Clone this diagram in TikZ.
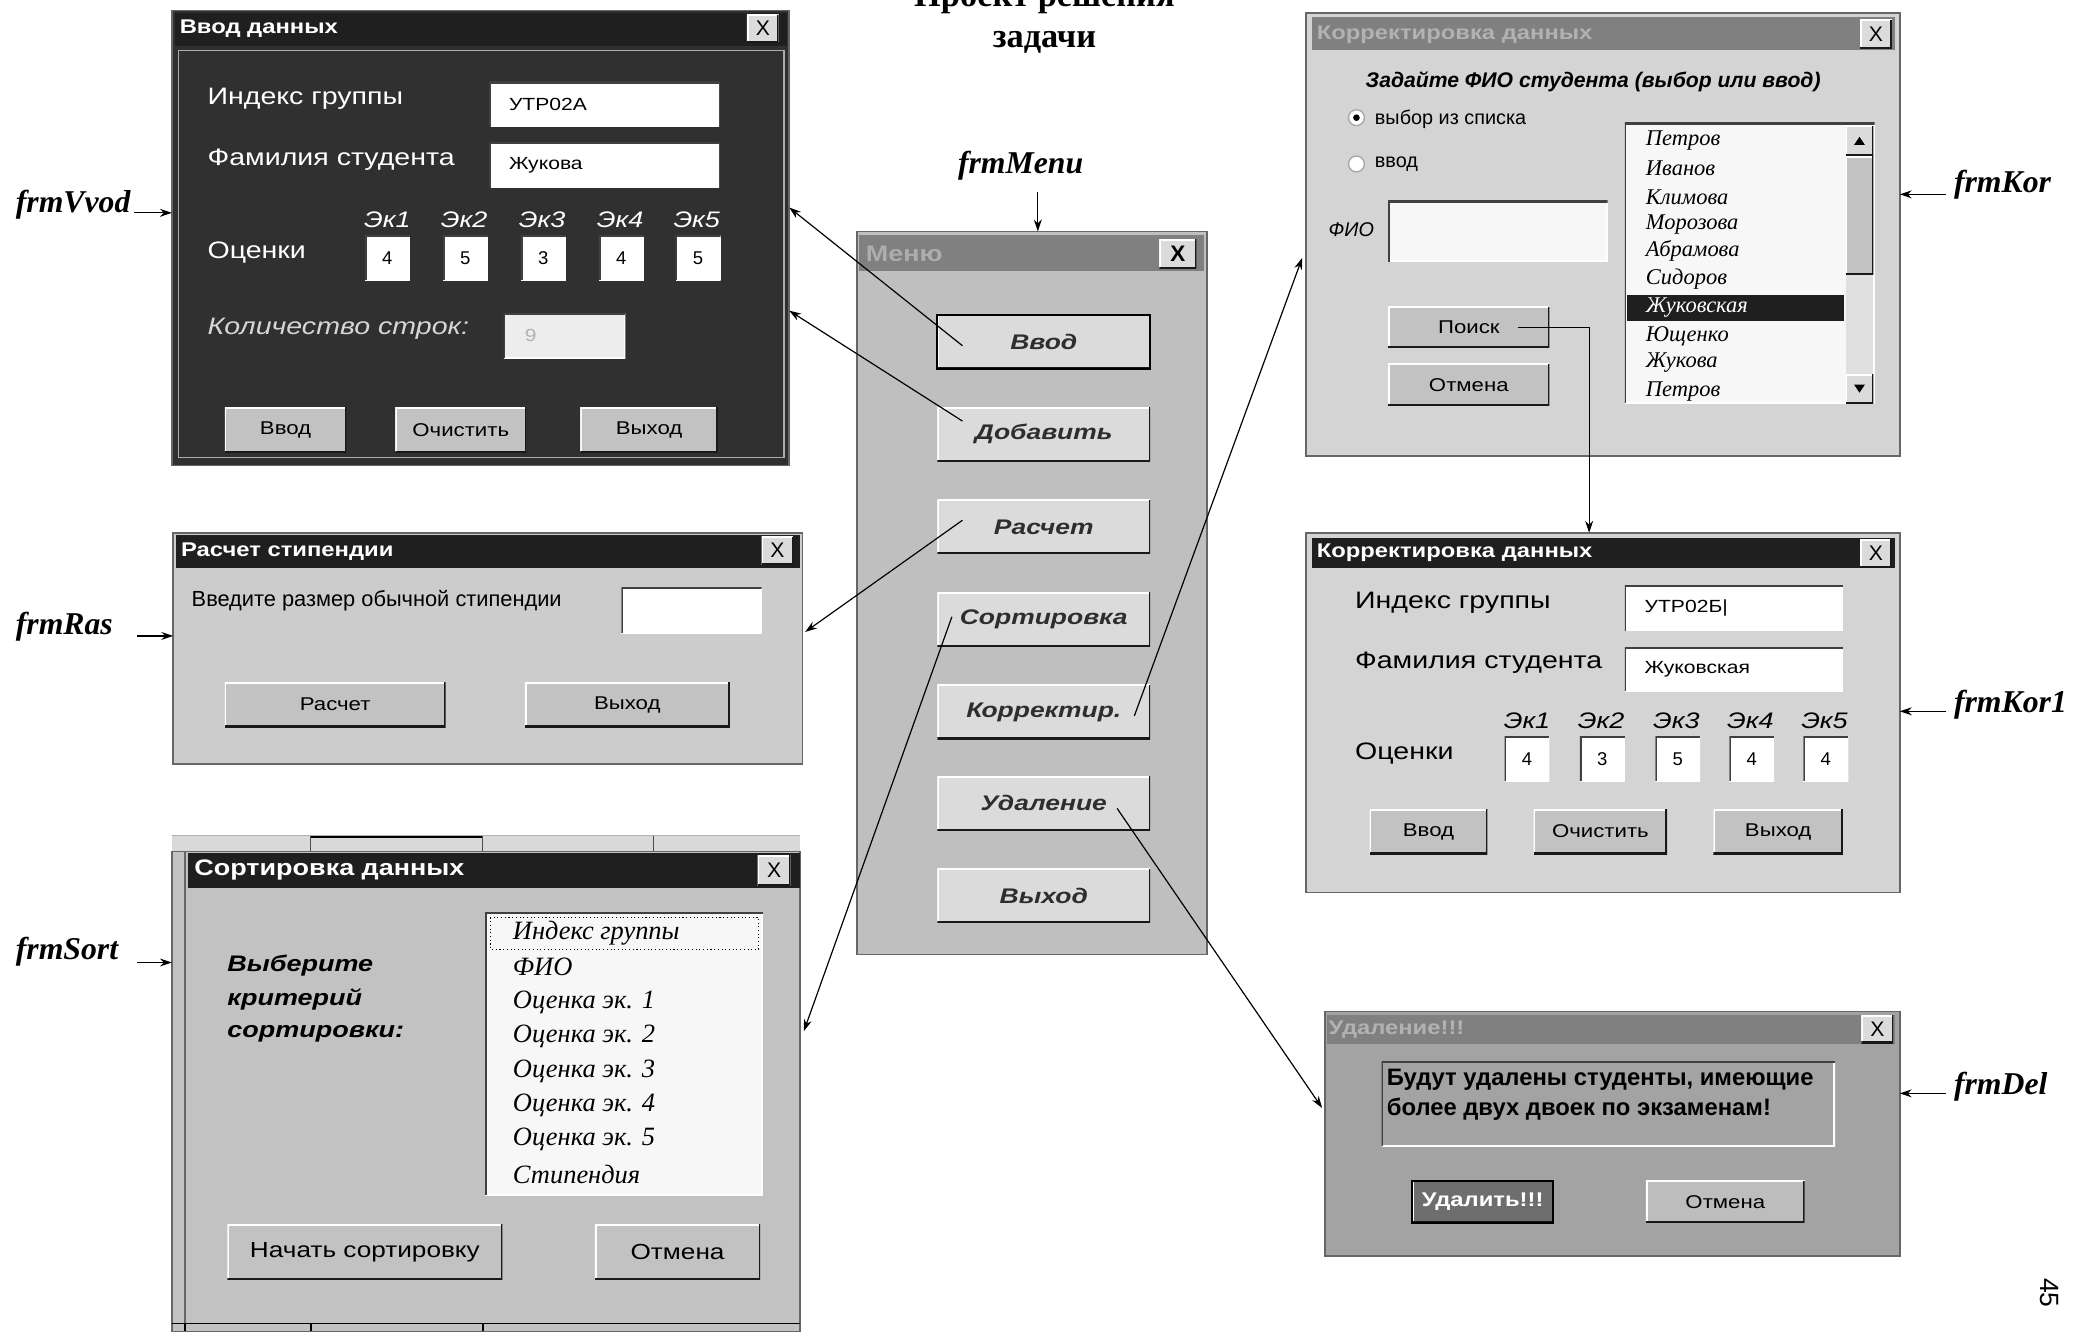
\documentclass[tikz,border=0pt]{standalone}
\usepackage{fontspec}
\setmainfont{Liberation Serif}
\newfontfamily\ui{Liberation Sans}
\newfontfamily\uis[FakeStretch=1.2]{Liberation Sans}
\newfontfamily\uiwide[FakeStretch=1.25]{Liberation Sans}
\usetikzlibrary{arrows.meta}
\definecolor{tbBlack}{gray}{0.12}
\definecolor{tbGray}{gray}{0.50}
\definecolor{tbText}{gray}{0.70}
\definecolor{bodyDark}{gray}{0.19}
\definecolor{bodyRas}{gray}{0.80}
\definecolor{bodySort}{gray}{0.76}
\definecolor{bodyMenu}{gray}{0.75}
\definecolor{bodyKor}{gray}{0.83}
\definecolor{bodyDel}{gray}{0.64}
\definecolor{btnFill}{gray}{0.76}
\definecolor{btnLight}{gray}{0.86}
\definecolor{btnDark}{gray}{0.43}
\definecolor{btnDel}{gray}{0.74}
\definecolor{edgeDark}{gray}{0.10}
\definecolor{boxFill}{gray}{0.97}
\definecolor{boxGray}{gray}{0.93}
\definecolor{menuText}{gray}{0.18}
\definecolor{menuTitle}{gray}{0.68}
\definecolor{dimText}{gray}{0.84}
\definecolor{trackFill}{gray}{0.88}
\tikzset{
  every node/.style={inner sep=0pt, outer sep=0pt},
  box/.style 2 args={minimum width=#1, minimum height=#2},
  raised/.style={path picture={
    \draw[white, line width=2.5pt] (path picture bounding box.south west) |- (path picture bounding box.north east);
    \draw[edgeDark, line width=2.5pt] (path picture bounding box.south west) -| (path picture bounding box.north east);}},
  sunken/.style={path picture={
    \draw[white, line width=2.5pt] (path picture bounding box.south west) -| (path picture bounding box.north east);
    \draw[black!75, line width=2.5pt] (path picture bounding box.south west) |- (path picture bounding box.north east);}},
  win/.style={rectangle, anchor=north west, fill=#1, draw=black!60, line width=1.2pt},
  tbar/.style={rectangle, anchor=north west, fill=#1},
  ttl/.style={anchor=west, font=\uis\bfseries\fontsize{15}{18}\selectfont, text=#1},
  xbtn/.style={rectangle, anchor=north west, fill=btnLight, raised, box={24}{21}, font=\ui\fontsize{16}{18}\selectfont},
  btn/.style={rectangle, anchor=north west, fill=#1, raised, font=\uis\fontsize{14}{17}\selectfont},
  btn/.default=btnFill,
  mbtn/.style={rectangle, anchor=north west, fill=btnLight, raised, box={161}{41}, font=\uiwide\bfseries\itshape\fontsize{16}{19}\selectfont, text=menuText},
  tbox/.style={rectangle, anchor=north west, fill=#1, sunken, font=\ui\fontsize{14}{17}\selectfont},
  tbox/.default=white,
  val/.style={anchor=west, font=\uis\fontsize{13.3}{16}\selectfont},
  lab/.style={anchor=west, font=\uis\fontsize{18}{21}\selectfont},
  ek/.style={font=\uis\itshape\fontsize{17}{20}\selectfont},
  lsitem/.style={anchor=west, font=\itshape\fontsize{17}{20}\selectfont},
  frm/.style={anchor=west, font=\bfseries\itshape\fontsize{24}{28}\selectfont},
  conn/.style={-{Stealth[length=9pt,width=6pt]}, line width=0.9pt},
}
\begin{document}
\begin{tikzpicture}[x=1pt, y=-1pt]
\useasboundingbox (0,0) rectangle (1568,1007);
\clip (0,0) rectangle (1568,1007);
% ---------- title ----------
\node[anchor=base, font=\bfseries\fontsize{26}{31}\selectfont] (title1) at (790,5) {Проект решения};
\node[anchor=base, font=\bfseries\fontsize{26}{31}\selectfont] (title2) at (790,36) {задачи};
% ---------- frmVvod ----------
\node[win=bodyDark, box={467}{344}] (wVvod) at (130,8) {};
\node[tbar=tbBlack, box={463}{25}] (tVvod) at (132,10) {};
\node[ttl=white] (ttVvod) at (136,22) {Ввод данных};
\node[xbtn] (xVvod) at (565,11) {X};
\draw[gray!65, line width=1pt] (135,38) rectangle (593,346);
\node[lab, text=white] (lIdx) at (157,75) {Индекс группы};
\node[tbox, box={174}{34}] (vIdx) at (370,62) {};
\node[val] (vIdxT) at ([shift={(15,0)}]vIdx.west) {УТР02А};
\node[lab, text=white] (lFam) at (157,121) {Фамилия студента};
\node[tbox, box={174}{34}] (vFam) at (370,108) {};
\node[val] (vFamT) at ([shift={(15,0)}]vFam.west) {Жукова};
\foreach \x [count=\i] in {293,351,410,469,527}
  \node[ek, text=white] (vEk\i) at (\x,166) {Эк\i};
\node[lab, text=white] (lOc) at (157,191) {Оценки};
\foreach \x/\v [count=\i] in {276/4,335/5,394/3,453/4,511/5}
  \node[tbox, box={34}{34}] (vG\i) at (\x,178) {\v};
\node[lab, text=dimText, font=\uis\itshape\fontsize{18}{21}\selectfont] (lCnt) at (157,249) {Количество строк:};
\node[tbox=boxGray, box={92}{34}] (vCnt) at (381,237) {};
\node[val, text=gray!60] (vCntT) at ([shift={(16,0)}]vCnt.west) {9};
\node[btn, box={92}{34}] (vB1) at (170,308) {Ввод};
\node[btn, box={99}{34}] (vB2) at (299,308) {Очистить};
\node[btn, box={104}{34}] (vB3) at (439,308) {Выход};
% ---------- frmRas ----------
\node[win=bodyRas, box={476}{175}] (wRas) at (131,403) {};
\node[tbar=tbBlack, box={472}{25}] (tRas) at (133,405) {};
\node[ttl=white] (ttRas) at (137,417) {Расчет стипендии};
\node[xbtn] (xRas) at (576,406) {X};
\node[lab, font=\ui\fontsize{16.5}{19}\selectfont] (lRas) at (145,454) {Введите размер обычной стипендии};
\node[tbox, box={106}{35}] (vRas) at (470,444) {};
\node[btn, box={167}{34}] (rB1) at (170,516) {Расчет};
\node[btn, box={155}{34}] (rB2) at (397,516) {Выход};
% ---------- frmSort ----------
\fill[gray!30] (130,632) rectangle (605,644);
\draw[gray!60, line width=0.8pt] (130,632) -- (605,632);
\draw[black, line width=1.5pt] (235,633) -- (365,633);
\foreach \x in {235,365,494} \draw[black!70, line width=0.8pt] (\x,632) -- (\x,644);
\node[rectangle, anchor=north west, fill=bodySort, draw=black!60, line width=1pt, box={10}{363}] (sBack) at (130,644) {};
\node[win=bodySort, box={465}{363}] (wSort) at (140,644) {};
\node[tbar=tbBlack, box={463}{27}] (tSort) at (142,645) {};
\node[ttl=white, font=\uis\bfseries\fontsize{17}{20}\selectfont] (ttSort) at (147,658) {Сортировка данных};
\node[xbtn, box={25}{23}] (xSort) at (573,647) {X};
\node[lab, font=\uis\bfseries\itshape\fontsize{17}{20}\selectfont] (lSort1) at (172,730) {Выберите};
\node[lab, font=\uis\bfseries\itshape\fontsize{17}{20}\selectfont] (lSort2) at (172,756) {критерий};
\node[lab, font=\uis\bfseries\itshape\fontsize{17}{20}\selectfont] (lSort3) at (172,782) {сортировки:};
\node[tbox=boxFill, box={210}{214}] (sList) at (367,690) {};
\draw[black, dotted, line width=0.8pt] (371,694) rectangle (574,718);
\foreach \t/\y [count=\i] in {Индекс группы/706, ФИО/731, Оценка эк. 1/758, Оценка эк. 2/784, Оценка эк. 3/810, Оценка эк. 4/836, Оценка эк. 5/862, Стипендия/888}
  \node[lsitem, font=\itshape\fontsize{20}{23}\selectfont] (sItem\i) at (388,\y) {\t};
\node[btn, box={208}{42}, font=\uis\fontsize{16.5}{20}\selectfont] (sB1) at (172,926) {Начать сортировку};
\node[btn, box={125}{42}, font=\uis\fontsize{16.5}{20}\selectfont] (sB2) at (450,926) {Отмена};
\draw[black, line width=1pt] (130,1001) -- (605,1001);
\foreach \x in {140,235,365} \draw[black, line width=1.5pt] (\x,1001) -- (\x,1007);
% ---------- frmMenu ----------
\node[win=bodyMenu, box={265}{547}] (wMenu) at (648,175) {};
\node[tbar=tbGray, box={261}{27}] (tMenu) at (650,178) {};
\node[ttl=menuTitle, font=\uis\bfseries\fontsize{17}{20}\selectfont] (ttMenu) at (655,192) {Меню};
\node[xbtn, box={28}{22}, font=\ui\bfseries\fontsize{17}{20}\selectfont] (xMenu) at (877,181) {X};
\node[mbtn, draw=black, line width=1.5pt] (mVvod) at (709,238) {Ввод};
\node[mbtn] (mAdd) at (709,308) {Добавить};
\node[mbtn] (mRas) at (709,378) {Расчет};
\node[mbtn] (mSort) at (709,448) {Сортировка};
\node[mbtn] (mKorr) at (709,518) {Корректир.};
\node[mbtn] (mDel) at (709,587) {Удаление};
\node[mbtn] (mExit) at (709,657) {Выход};
% ---------- frmKor ----------
\node[win=bodyKor, box={449}{335}] (wKor) at (988,10) {};
\node[tbar=tbGray, box={441}{25}] (tKor) at (992,13) {};
\node[ttl=tbText] (ttKor) at (996,26) {Корректировка данных};
\node[xbtn, box={24}{22}] (xKor) at (1407,15) {X};
\node[font=\ui\bfseries\itshape\fontsize{16}{19}\selectfont] (kHead) at (1205,62) {Задайте ФИО студента (выбор или ввод)};
\node[circle, draw=gray!70, fill=white, line width=1pt, minimum size=12pt] (kR1) at (1026,89) {};
\fill[black] (kR1.center) circle (2.5pt);
\node[circle, draw=gray!70, fill=white, line width=1pt, minimum size=12pt] (kR2) at (1026,124) {};
\node[lab, font=\ui\fontsize{15}{18}\selectfont] (kR1t) at (1040,90) {выбор из списка};
\node[lab, font=\ui\fontsize{15}{18}\selectfont] (kR2t) at (1040,124) {ввод};
\node[lab, font=\ui\itshape\fontsize{15}{18}\selectfont] (kFio) at (1005,174) {ФИО};
\node[tbox=boxFill, box={166}{46}] (kFioBox) at (1050,152) {};
\node[btn, box={122}{31}] (kPoisk) at (1050,232) {Поиск};
\node[btn, box={122}{32}] (kCancel) at (1050,275) {Отмена};
\node[tbox=boxFill, box={189}{212}] (kList) at (1229,93) {};
\fill[tbBlack] (1231,223) rectangle (1395,243);
\foreach \t/\y [count=\i] in {Петров/106, Иванов/127, Климова/149, Морозова/170, Абрамова/190, Сидоров/211, Ющенко/254, Жукова/274, Петров/296}
  \node[lsitem] (kItem\i) at (1245,\y) {\t};
\node[lsitem, text=white] (kSel) at (1245,233) {Жуковская};
\fill[trackFill] (1396,118) rectangle (1417,283);
\node[rectangle, anchor=north west, fill=btnLight, raised, box={21}{23}] (kUp) at (1396,95) {};
\fill[black] ([shift={(-4,3)}]kUp.center) -- ([shift={(4,3)}]kUp.center) -- ([shift={(0,-3)}]kUp.center) -- cycle;
\node[rectangle, anchor=north west, fill=btnFill, raised, box={21}{90}] (kThumb) at (1396,118) {};
\node[rectangle, anchor=north west, fill=btnLight, raised, box={21}{22}] (kDown) at (1396,283) {};
\fill[black] ([shift={(-4,-3)}]kDown.center) -- ([shift={(4,-3)}]kDown.center) -- ([shift={(0,3)}]kDown.center) -- cycle;
% ---------- frmKor1 ----------
\node[win=bodyKor, box={449}{272}] (wKor1) at (988,403) {};
\node[tbar=tbBlack, box={441}{23}] (tKor1) at (992,407) {};
\node[ttl=white] (ttKor1) at (996,418) {Корректировка данных};
\node[xbtn] (xKor1) at (1407,408) {X};
\node[lab] (k1Idx) at (1025,456) {Индекс группы};
\node[tbox, box={165}{34}] (k1IdxBox) at (1229,443) {};
\node[val] (k1IdxT) at ([shift={(15,0)}]k1IdxBox.west) {УТР02Б|};
\node[lab] (k1Fam) at (1025,501) {Фамилия студента};
\node[tbox, box={165}{33}] (k1FamBox) at (1229,490) {};
\node[val] (k1FamT) at ([shift={(15,0)}]k1FamBox.west) {Жуковская};
\foreach \x [count=\i] in {1155,1211,1268,1324,1380}
  \node[ek] (k1Ek\i) at (\x,545) {Эк\i};
\node[lab] (k1Oc) at (1025,570) {Оценки};
\foreach \x/\v [count=\i] in {1138/4,1195/3,1252/5,1308/4,1364/4}
  \node[tbox, box={34}{34}] (k1G\i) at (\x,557) {\v};
\node[btn, box={89}{34}] (k1B1) at (1036,612) {Ввод};
\node[btn, box={101}{34}] (k1B2) at (1160,612) {Очистить};
\node[btn, box={98}{34}] (k1B3) at (1296,612) {Выход};
% ---------- frmDel ----------
\node[win=bodyDel, box={435}{185}] (wDel) at (1002,765) {};
\node[tbar=tbGray, box={429}{22}] (tDel) at (1004,768) {};
\node[ttl=tbText] (ttDel) at (1005,779) {Удаление!!!};
\node[xbtn] (xDel) at (1408,768) {X};
\node[tbox=bodyDel, box={343}{64}] (dFrame) at (1045,803) {};
\node[lab, font=\ui\bfseries\fontsize{18}{21}\selectfont] (dT1) at (1049,817) {Будут удалены студенты, имеющие};
\node[lab, font=\ui\bfseries\fontsize{18}{21}\selectfont] (dT2) at (1049,839) {более двух двоек по экзаменам!};
\node[btn=btnDark, box={107}{32}, draw=black, line width=1.5pt, text=white, font=\uis\bfseries\fontsize{15}{18}\selectfont] (dB1) at (1068,893) {Удалить!!!};
\node[btn=btnDel, box={120}{32}] (dB2) at (1245,893) {Отмена};
% ---------- page number ----------
\node[rotate=-90, font=\ui\fontsize{20}{24}\selectfont] (pg) at (1550,978) {45};
% ---------- form labels ----------
\node[frm] (lVvod) at (12,155) {frmVvod};
\node[frm] (lRas) at (12,474) {frmRas};
\node[frm] (lSortL) at (12,720) {frmSort};
\node[frm, anchor=center] (lMenu) at (772,125) {frmMenu};
\node[frm] (lKor) at (1478,140) {frmKor};
\node[frm] (lKor1) at (1478,533) {frmKor1};
\node[frm] (lDel) at (1478,822) {frmDel};
\coordinate (aVvod) at (101,161);
\coordinate (aRas) at (104,481);
\coordinate (aSort) at (104,728);
\coordinate (aMenu) at (785,145);
\coordinate (aKor) at (1472,147);
\coordinate (aKor1) at (1472,538);
\coordinate (aDel) at (1472,827);
\draw[conn] (aVvod) -- (aVvod -| wVvod.west);
\draw[conn] (aRas) -- (aRas -| wRas.west);
\draw[conn] (aSort) -- (aSort -| sBack.west);
\draw[conn] (aMenu) -- (aMenu |- wMenu.north);
\draw[conn] (aKor) -- (aKor -| wKor.east);
\draw[conn] (aKor1) -- (aKor1 -| wKor1.east);
\draw[conn] (aDel) -- (aDel -| wDel.east);
% ---------- connectors ----------
\draw[conn] ([shift={(19,3)}]mVvod.west) -- ([shift={(0,149)}]wVvod.north east);
\draw[conn] ([shift={(19,-10)}]mAdd.west) -- ([shift={(0,227)}]wVvod.north east);
\draw[conn] ([shift={(19,-5)}]mRas.west) -- ([shift={(2,75)}]wRas.north east);
\draw[conn] ([shift={(11,-2)}]mSort.west) -- ([shift={(3,136)}]wSort.north east);
\draw[conn] ([shift={(-12,3)}]mKorr.east) -- ([shift={(-3,185)}]wKor.north west);
\draw[conn] ([shift={(-25,4)}]mDel.east) -- ([shift={(-2,73)}]wDel.north west);
\draw[conn] ([shift={(98,16)}]kPoisk.north west) -| ([shift={(214,0)}]wKor1.north west);
\end{tikzpicture}
\end{document}
